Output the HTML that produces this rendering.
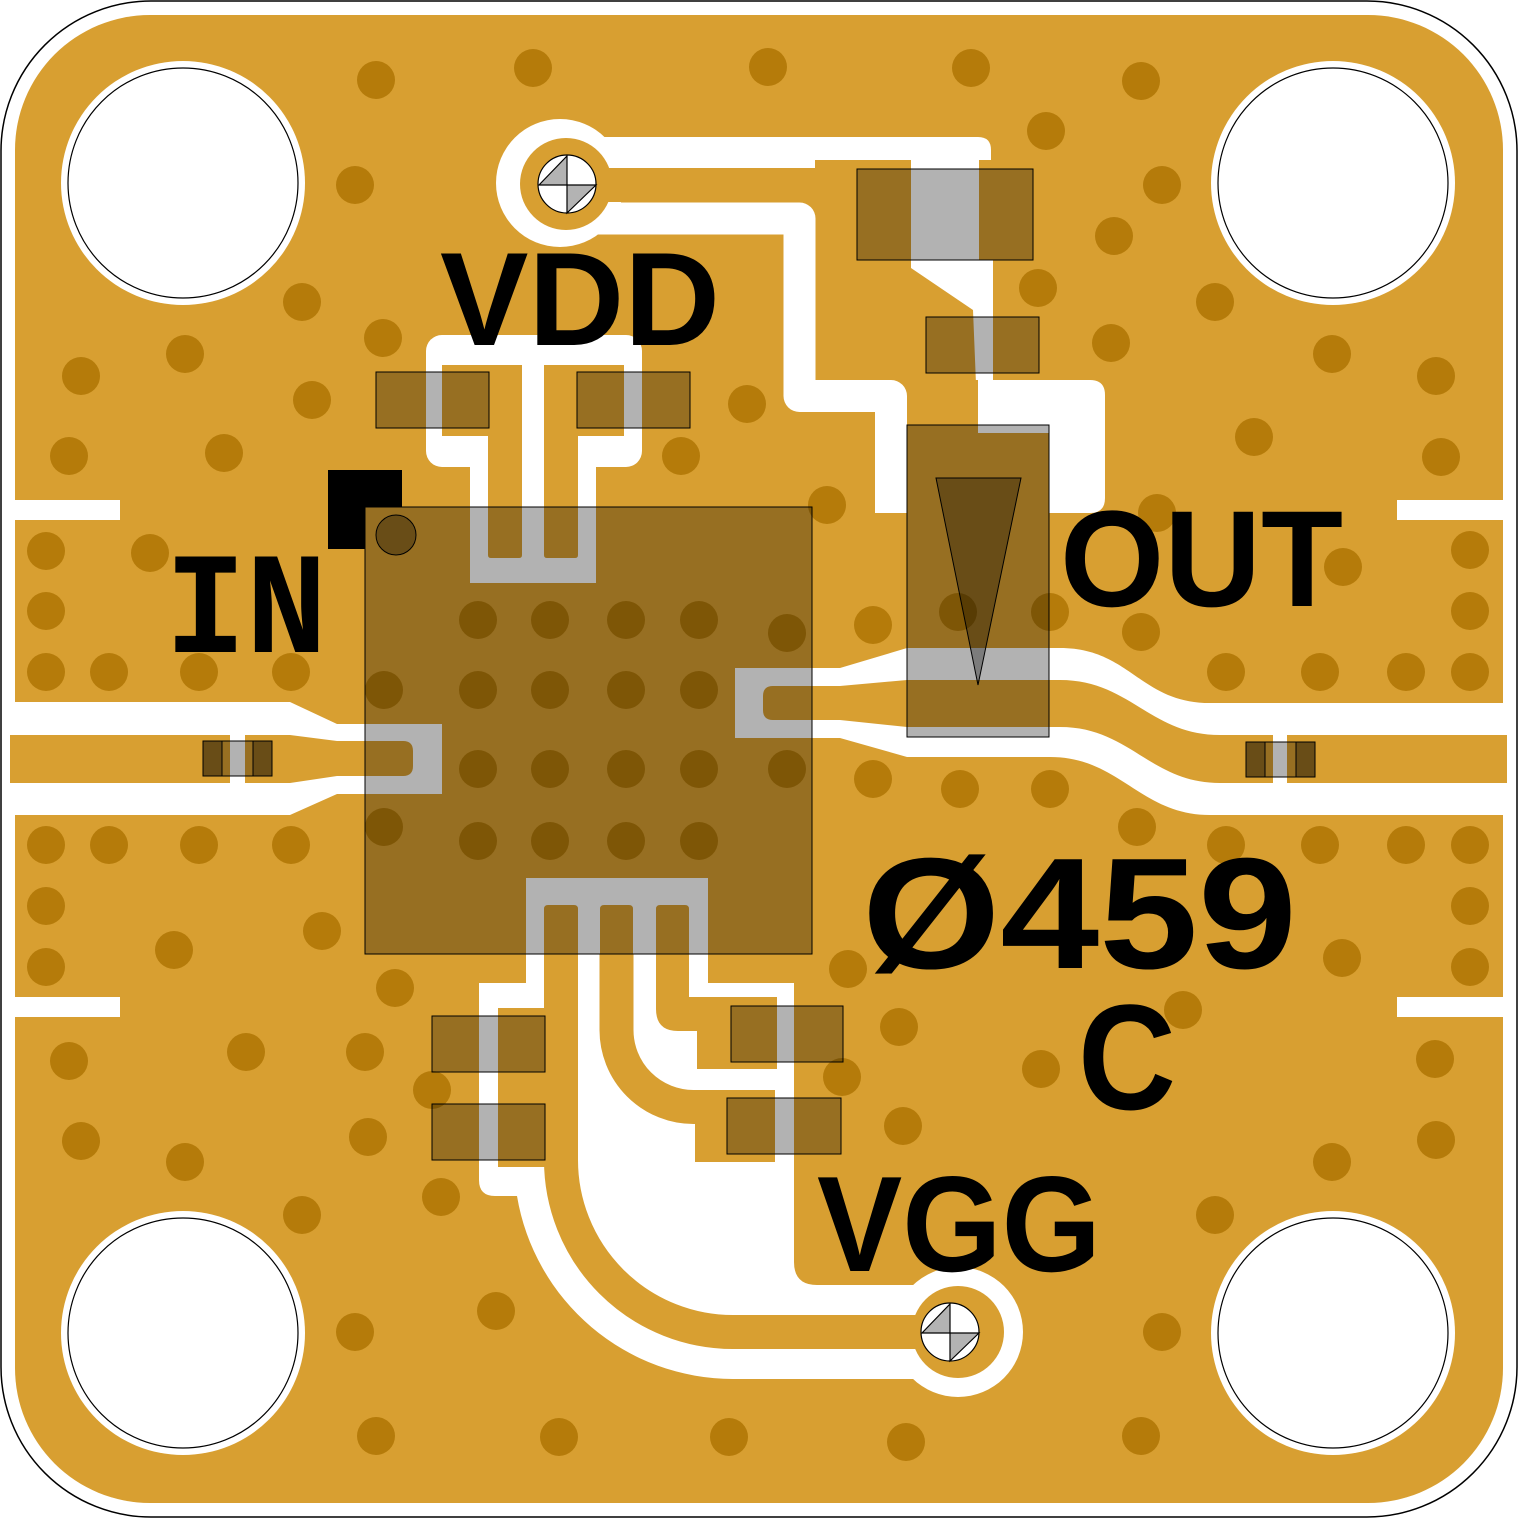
<!DOCTYPE html>
<html><head><meta charset="utf-8"><style>html,body{margin:0;padding:0;background:#fff}svg{display:block}</style></head>
<body>
<svg width="1518" height="1518" viewBox="0 0 1518 1518" xmlns="http://www.w3.org/2000/svg">
<rect x="1" y="1" width="1516" height="1516" rx="150" fill="#fff" stroke="#000" stroke-width="1.5"/>
<rect x="15" y="15" width="1488" height="1488" rx="135" fill="#D89F31"/>
<g fill="#B57B0A">
<circle cx="376" cy="80" r="19"/><circle cx="533" cy="68" r="19"/><circle cx="768" cy="67" r="19"/><circle cx="971" cy="68" r="19"/><circle cx="1141" cy="81" r="19"/>
<circle cx="355" cy="185" r="19"/><circle cx="1046" cy="131" r="19"/><circle cx="1162" cy="185" r="19"/><circle cx="1114" cy="236" r="19"/>
<circle cx="302" cy="302" r="19"/><circle cx="383" cy="338" r="19"/><circle cx="1038" cy="288" r="19"/><circle cx="1215" cy="302" r="19"/><circle cx="1111" cy="343" r="19"/>
<circle cx="185" cy="354" r="19"/><circle cx="81" cy="376" r="19"/><circle cx="312" cy="400" r="19"/><circle cx="1332" cy="354" r="19"/><circle cx="1436" cy="376" r="19"/>
<circle cx="69" cy="456" r="19"/><circle cx="224" cy="453" r="19"/><circle cx="747" cy="404" r="19"/><circle cx="681" cy="456" r="19"/><circle cx="1254" cy="437" r="19"/><circle cx="1441" cy="457" r="19"/>
<circle cx="827" cy="505" r="19"/><circle cx="1157" cy="513" r="19"/>
<circle cx="46" cy="551" r="19"/><circle cx="150" cy="553" r="19"/><circle cx="46" cy="611" r="19"/><circle cx="46" cy="672" r="19"/><circle cx="109" cy="672" r="19"/><circle cx="199" cy="672" r="19"/><circle cx="291" cy="672" r="19"/>
<circle cx="1343" cy="567" r="19"/><circle cx="1470" cy="550" r="19"/><circle cx="1470" cy="611" r="19"/><circle cx="1470" cy="672" r="19"/><circle cx="1406" cy="672" r="19"/><circle cx="1320" cy="672" r="19"/><circle cx="1226" cy="672" r="19"/><circle cx="1141" cy="632" r="19"/><circle cx="873" cy="625" r="19"/><circle cx="787" cy="633" r="19"/><circle cx="958" cy="612" r="19"/><circle cx="1050" cy="612" r="19"/>
<circle cx="478" cy="620" r="19"/><circle cx="550" cy="620" r="19"/><circle cx="626" cy="620" r="19"/><circle cx="699" cy="620" r="19"/>
<circle cx="384" cy="690" r="19"/><circle cx="478" cy="690" r="19"/><circle cx="550" cy="690" r="19"/><circle cx="626" cy="690" r="19"/><circle cx="699" cy="690" r="19"/><circle cx="787" cy="690" r="19"/>
<circle cx="478" cy="769" r="19"/><circle cx="550" cy="769" r="19"/><circle cx="626" cy="769" r="19"/><circle cx="699" cy="769" r="19"/><circle cx="787" cy="769" r="19"/>
<circle cx="384" cy="827" r="19"/><circle cx="478" cy="841" r="19"/><circle cx="550" cy="841" r="19"/><circle cx="626" cy="841" r="19"/><circle cx="699" cy="841" r="19"/>
<circle cx="873" cy="779" r="19"/><circle cx="960" cy="789" r="19"/><circle cx="1050" cy="789" r="19"/><circle cx="1137" cy="827" r="19"/>
<circle cx="46" cy="845" r="19"/><circle cx="109" cy="845" r="19"/><circle cx="199" cy="845" r="19"/><circle cx="291" cy="845" r="19"/><circle cx="1226" cy="845" r="19"/><circle cx="1320" cy="845" r="19"/><circle cx="1406" cy="845" r="19"/><circle cx="1470" cy="845" r="19"/>
<circle cx="46" cy="906" r="19"/><circle cx="46" cy="967" r="19"/><circle cx="1470" cy="906" r="19"/><circle cx="1470" cy="967" r="19"/><circle cx="174" cy="950" r="19"/><circle cx="322" cy="931" r="19"/><circle cx="1342" cy="958" r="19"/><circle cx="848" cy="969" r="19"/><circle cx="395" cy="988" r="19"/><circle cx="1183" cy="1010" r="19"/><circle cx="899" cy="1027" r="19"/><circle cx="1041" cy="1069" r="19"/><circle cx="842" cy="1077" r="19"/><circle cx="432" cy="1090" r="19"/><circle cx="69" cy="1061" r="19"/><circle cx="246" cy="1052" r="19"/><circle cx="365" cy="1052" r="19"/><circle cx="1435" cy="1059" r="19"/>
<circle cx="81" cy="1141" r="19"/><circle cx="185" cy="1162" r="19"/><circle cx="368" cy="1137" r="19"/><circle cx="903" cy="1126" r="19"/><circle cx="1436" cy="1140" r="19"/><circle cx="1332" cy="1162" r="19"/><circle cx="302" cy="1215" r="19"/><circle cx="441" cy="1197" r="19"/><circle cx="1215" cy="1215" r="19"/><circle cx="496" cy="1311" r="19"/><circle cx="355" cy="1332" r="19"/><circle cx="1162" cy="1332" r="19"/><circle cx="376" cy="1436" r="19"/><circle cx="559" cy="1437" r="19"/><circle cx="729" cy="1437" r="19"/><circle cx="906" cy="1442" r="19"/><circle cx="1141" cy="1436" r="19"/>
</g>
<!-- white clearances -->
<g fill="#fff">
<circle cx="183" cy="183" r="122"/><circle cx="1333" cy="183" r="122"/><circle cx="183" cy="1333" r="122"/><circle cx="1333" cy="1333" r="122"/>
<rect x="15" y="500" width="105" height="20"/><rect x="15" y="997" width="105" height="20"/>
<rect x="1397" y="500" width="106" height="20"/><rect x="1397" y="997" width="106" height="20"/>
<path d="M15,702 L290,702 L337,724 L442,724 L442,794 L337,794 L290,815 L15,815 Z"/>
<path d="M735,668 L840,668 L907,648 L1060,648 C1130,648 1140,703 1210,703 L1503,703 L1503,815 L1210,815 C1140,815 1120,757 1050,757 L907,757 L840,738 L735,738 Z"/>
<circle cx="560" cy="183" r="64"/>
<rect x="570" y="137" width="245" height="31"/>
<path d="M570,137 L978,137 Q991,137 991,150 L991,160 L570,160 Z"/>
<rect x="911" y="160" width="68" height="108"/>
<path d="M911,260 L993,260 L993,380 L1090,380 Q1105,380 1105,395 L1105,498 Q1105,513 1090,513 L1049,513 L1049,433 L978,433 L973,310 L911,268 Z"/>
<rect x="426" y="335" width="216" height="132" rx="16"/>
<rect x="470" y="440" width="126" height="143"/>
<rect x="526" y="878" width="182" height="76"/>
<path d="M479,983 L526,983 L526,954 L708,954 L708,983 L794,983 L794,1262 Q794,1285 817,1285 L958,1285 L958,1379 L733,1379 A219,219 0 0 1 517,1196 L495,1196 Q479,1196 479,1180 Z"/>
<circle cx="958" cy="1332" r="65"/>
</g>
<path d="M570,218.5 L799.5,218.5 L799.5,396 L891,396 L891,513" fill="none" stroke="#fff" stroke-width="32" stroke-linejoin="round"/>
<!-- gold traces -->
<g fill="#D89F31">
<path d="M10,735 L290,735 L337,741 L403,741 Q413,741 413,751 L413,766 Q413,776 403,776 L337,776 L290,783 L10,783 Z"/>
<path d="M773,686 L840,686 L907,680 L1060,680 C1130,680 1150,735 1220,735 L1507,735 L1507,783 L1220,783 C1150,783 1130,727 1060,727 L907,727 L840,720 L773,720 Q763,720 763,710 L763,696 Q763,686 773,686 Z"/>
<circle cx="566" cy="184" r="46"/>
<rect x="590" y="168" width="230" height="34"/>
<rect x="907" y="380" width="71" height="60"/>
<rect x="907" y="435" width="142" height="48"/>
<path d="M442,365 L522,365 L522,555 Q522,558 519,558 L491,558 Q488,558 488,555 L488,436 L442,436 Z"/>
<path d="M544,365 L624,365 L624,436 L578,436 L578,555 Q578,558 575,558 L547,558 Q544,558 544,555 Z"/>
<path d="M548,905 L574,905 Q578,905 578,909 L578,960 L544,960 L544,909 Q544,905 548,905 Z"/>
<path d="M604,905 L629,905 Q633,905 633,909 L633,960 L600,960 L600,909 Q600,905 604,905 Z"/>
<path d="M660,905 L685,905 Q689,905 689,909 L689,997 L777,997 L777,1069 L697,1069 L697,1031 L678,1031 Q656,1031 656,1009 L656,909 Q656,905 660,905 Z"/>
<rect x="498" y="1008" width="50" height="159"/>
<rect x="695" y="1090" width="80" height="72"/>
<circle cx="958" cy="1332" r="46"/>
</g>
<path d="M561,954 L561,1160 A172,172 0 0 0 733,1332 L958,1332" fill="none" stroke="#D89F31" stroke-width="34"/>
<path d="M616.5,954 L616.5,1030 A77,77 0 0 0 693.5,1107 L700,1107" fill="none" stroke="#D89F31" stroke-width="34"/>
<!-- series gaps -->
<rect x="230" y="733" width="15" height="52" fill="#fff"/>
<rect x="1273" y="733" width="14" height="52" fill="#fff"/>
<!-- via holes -->
<g stroke="#000" stroke-width="1.2">
<circle cx="567" cy="184" r="29" fill="#fff"/>
<path d="M567,156 L567,185 L539,185 Z M567,185 L596,185 L567,213 Z" fill="#B3B3B3"/>
<circle cx="950" cy="1332" r="29" fill="#fff"/>
<path d="M950,1304 L950,1333 L922,1333 Z M950,1333 L979,1333 L950,1361 Z" fill="#B3B3B3"/>
</g>
<!-- mounting holes -->
<g fill="#fff" stroke="#000" stroke-width="1.2">
<circle cx="183" cy="183" r="115"/><circle cx="1333" cy="183" r="115"/><circle cx="183" cy="1333" r="115"/><circle cx="1333" cy="1333" r="115"/>
</g>
<!-- pin1 marker -->
<path d="M328,470 L402,470 L402,507 L365,507 L365,549 L328,549 Z" fill="#000"/>
<!-- chip -->
<rect x="365" y="507" width="447" height="447" fill="#000" fill-opacity="0.3" stroke="#000" stroke-width="1"/>
<circle cx="396" cy="535" r="20" fill="#000" fill-opacity="0.3" stroke="#000" stroke-width="1"/>
<!-- caps -->
<g fill="#000" fill-opacity="0.3" stroke="#000" stroke-width="1">
<rect x="857" y="169" width="176" height="91"/>
<rect x="926" y="317" width="113" height="56"/>
<rect x="376" y="372" width="113" height="56"/>
<rect x="577" y="372" width="113" height="56"/>
<rect x="907" y="425" width="142" height="312"/>
<rect x="432" y="1016" width="113" height="56"/>
<rect x="432" y="1104" width="113" height="56"/>
<rect x="731" y="1006" width="112" height="56"/>
<rect x="727" y="1098" width="114" height="56"/>
<rect x="203" y="741" width="69" height="35"/>
<rect x="1246" y="742" width="69" height="35"/>
<rect x="203" y="741" width="19" height="35"/><rect x="253" y="741" width="19" height="35"/>
<rect x="1246" y="742" width="19" height="35"/><rect x="1296" y="742" width="19" height="35"/>
</g>
<polygon points="936,478 1021,478 978,685" fill="#000" fill-opacity="0.3" stroke="#000" stroke-width="1"/>
<!-- text -->
<g fill="#000" font-family="Liberation Sans, sans-serif" font-weight="bold">
<text x="440" y="345" font-size="133" textLength="280" lengthAdjust="spacingAndGlyphs">VDD</text>
<text x="1060" y="606" font-size="137" textLength="283" lengthAdjust="spacingAndGlyphs">OUT</text>
<text x="862" y="968" font-size="158" textLength="435" lengthAdjust="spacingAndGlyphs">Ø459</text>
<text x="1078" y="1109" font-size="150" textLength="98" lengthAdjust="spacingAndGlyphs">C</text>
<text x="817" y="1271" font-size="136" textLength="284" lengthAdjust="spacingAndGlyphs">VGG</text>
<text x="165" y="652" font-size="145" font-family="Liberation Mono, monospace" textLength="162" lengthAdjust="spacingAndGlyphs">IN</text>
</g>
</svg>
</body></html>
